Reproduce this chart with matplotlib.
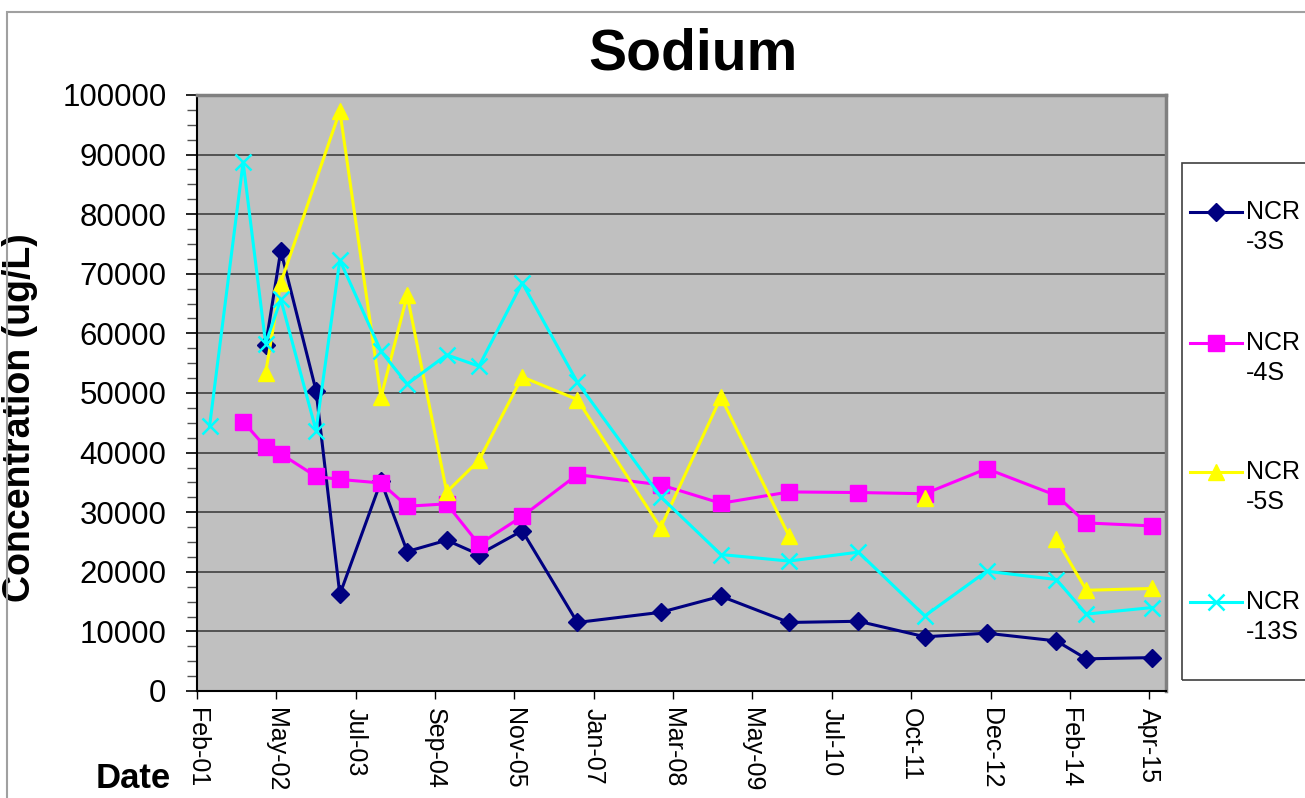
import numpy as np
import pandas as pd
import matplotlib
matplotlib.use("Agg")
import matplotlib.pyplot as plt
import matplotlib.dates as mdates
from matplotlib.ticker import MultipleLocator
from matplotlib.patches import Rectangle
from matplotlib.lines import Line2D

plt.rcParams['font.family'] = ['Liberation Sans', 'DejaVu Sans']

# sampling dates
dates_3s = ['2002-03-05', '2002-05-26', '2002-12-03', '2003-04-11', '2003-11-20',
            '2004-04-10', '2004-11-10', '2005-05-04', '2005-12-24', '2006-10-19',
            '2008-01-13', '2008-12-05', '2009-12-09', '2010-12-20', '2011-12-15',
            '2012-11-14', '2013-11-27', '2014-05-08', '2015-04-29']
ncr_3s = [58000, 73900, 50400, 16200, 35200,
          23400, 25300, 22900, 26900, 11500,
          13200, 15900, 11500, 11700, 9100,
          9700, 8400, 5400, 5600]

dates_4s = ['2001-11-03', '2002-03-05', '2002-05-26', '2002-12-03', '2003-04-11',
            '2003-11-20', '2004-04-10', '2004-11-10', '2005-05-04', '2005-12-24',
            '2006-10-19', '2008-01-13', '2008-12-05', '2009-12-09', '2010-12-20',
            '2011-12-15', '2012-11-14', '2013-11-27', '2014-05-08', '2015-04-29']
ncr_4s = [45200, 40900, 39800, 36000, 35500,
          34900, 31000, 31400, 24600, 29300,
          36300, 34600, 31500, 33400, 33300,
          33100, 37300, 32800, 28200, 27700]

# None = missing sample (line break)
dates_5s = ['2002-03-05', '2002-05-26', '2003-04-11', '2003-11-20', '2004-04-10',
            '2004-11-10', '2005-05-04', '2005-12-24', '2006-10-19', '2008-01-13',
            '2008-12-05', '2009-12-09', '2010-12-20', '2011-12-15', '2012-11-14',
            '2013-11-27', '2014-05-08', '2015-04-29']
ncr_5s = [53400, 68500, 97300, 49300, 66400,
          33400, 38700, 52700, 48900, 27400,
          49300, 26000, None, 32300, None,
          25500, 16900, 17200]

dates_13s = ['2001-05-05', '2001-11-03', '2002-03-05', '2002-05-26', '2002-12-03',
             '2003-04-11', '2003-11-20', '2004-04-10', '2004-11-10', '2005-05-04',
             '2005-12-24', '2006-10-19', '2008-01-13', '2008-12-05', '2009-12-09',
             '2010-12-20', '2011-12-15', '2012-11-14', '2013-11-27', '2014-05-08',
             '2015-04-29']
ncr_13s = [44400, 88700, 58300, 65700, 43700,
           72300, 57000, 51500, 56400, 54500,
           68500, 51800, 32600, 22900, 21800,
           23300, 12600, 20100, 18700, 12900,
           14000]

series = [
    ('NCR\n-3S', dates_3s, ncr_3s, '#000080', 'D', 9.5, 1.0),
    ('NCR\n-4S', dates_4s, ncr_4s, '#FF00FF', 's', 11, 1.0),
    ('NCR\n-5S', dates_5s, ncr_5s, '#FFFF00', '^', 12, 1.0),
    ('NCR\n-13S', dates_13s, ncr_13s, '#00FFFF', 'x', 12, 1.8),
]

W, H = 1305, 798
fig = plt.figure(figsize=(W / 100, H / 100), dpi=100)
ax = fig.add_axes([197 / W, 1 - 691 / H, 968.5 / W, 596 / H])
ax.set_facecolor('#C0C0C0')

for label, d, v, c, m, ms, mew in series:
    x = pd.to_datetime(d)
    y = np.array([np.nan if val is None else val for val in v], dtype=float)
    ax.plot(x, y, color=c, lw=2.2, marker=m, markersize=ms,
            markerfacecolor=c, markeredgecolor=c, markeredgewidth=mew, zorder=3)

# date axis: Excel-style major unit of 430 days
x0 = mdates.date2num(pd.Timestamp('2001-02-26'))
x1 = mdates.date2num(pd.Timestamp('2015-07-11'))
ax.set_xlim(x0, x1)
ax.set_xticks(np.arange(x0, x1, 430))
ax.xaxis.set_major_formatter(mdates.DateFormatter('%b-%y'))
plt.setp(ax.get_xticklabels(), rotation=270, fontsize=18, ha='center', va='top')

ax.set_ylim(0, 100000)
ax.yaxis.set_major_locator(MultipleLocator(10000))
ax.yaxis.set_minor_locator(MultipleLocator(2500))
ax.tick_params(axis='y', labelsize=22.5, pad=14, length=8, width=1.2, direction='out')
ax.tick_params(axis='y', which='minor', length=7, width=1.0, color='#505050')
ax.tick_params(axis='x', length=6, width=1.0, direction='out', pad=6)

ax.grid(axis='y', which='major', color='#404040', lw=1.2)
ax.set_axisbelow(True)

for s in ['top', 'right']:
    ax.spines[s].set_color('#808080')
    ax.spines[s].set_linewidth(2.5)
for s in ['left', 'bottom']:
    ax.spines[s].set_color('black')
    ax.spines[s].set_linewidth(1.5)

ax.set_ylabel('Concentration (ug/L)', fontsize=27, fontweight='bold')
ax.yaxis.set_label_coords(-0.164, 0.458)
ax.set_xlabel('Date', fontsize=25, fontweight='bold')
ax.xaxis.set_label_coords(-0.066, -0.146)
ax.xaxis.label.set_va('center')

fig.text(693 / W, 1 - 54 / H, 'Sodium', fontsize=41, fontweight='bold',
         ha='center', va='center')

# legend: box runs off the right edge, as in the original
fig.add_artist(Rectangle((1182 / W, 1 - 680 / H), 0.2, 517 / H,
                         transform=fig.transFigure, fill=False,
                         edgecolor='#404040', lw=1.2))
leg_y = [212, 343, 472, 602]
for (label, d, v, c, m, ms, mew), ly in zip(series, leg_y):
    yf = 1 - ly / H
    fig.add_artist(Line2D([1190 / W, 1242 / W], [yf, yf], transform=fig.transFigure,
                          color=c, lw=2.2))
    fig.add_artist(Line2D([1216 / W], [yf], transform=fig.transFigure, color=c,
                          marker=m, markersize=ms, markerfacecolor=c,
                          markeredgecolor=c, markeredgewidth=mew))
    name, code = label.split('\n')
    fig.text(1246 / W, yf, name, fontsize=18, ha='left', va='center')
    fig.text(1246 / W, yf - 30 / H, code, fontsize=18, ha='left', va='center')

# outer chart border
fig.add_artist(Rectangle((7 / W, -0.05), 1.1, 1 - 12 / H + 0.05,
                         transform=fig.transFigure, fill=False,
                         edgecolor='#A0A0A0', lw=1.5))

fig.savefig('out.png', dpi=100)
